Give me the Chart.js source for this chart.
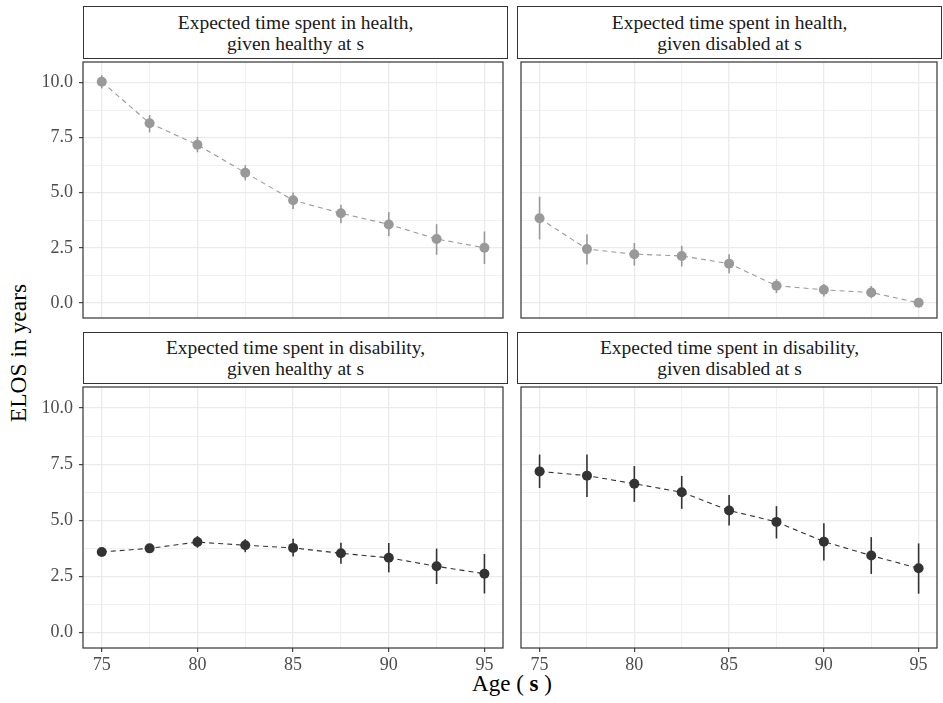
<!DOCTYPE html>
<html>
<head>
<meta charset="utf-8">
<script src="https://cdn.jsdelivr.net/npm/chart.js"></script>
<style>
  body { margin: 0; background: #fff; }
  #fig { position: relative; width: 943px; height: 703px; font-family: "Liberation Serif", serif; }
  #fig canvas { position: absolute; }
  .strip {
    position: absolute; box-sizing: border-box; border: 1px solid #333; background: #fff;
    color: #1a1a1a; font-size: 19.5px; line-height: 21px; text-align: center;
    display: flex; align-items: center; justify-content: center;
  }
  .ytitle {
    position: absolute; left: 18px; top: 353px; transform: translate(-50%, -50%) rotate(-90deg);
    font-size: 23.5px; white-space: nowrap; color: #000;
  }
  .xtitle {
    position: absolute; left: 512px; top: 684px; transform: translate(-50%, -50%);
    font-size: 23px; white-space: nowrap; color: #000;
  }
</style>
</head>
<body>
<div id="fig">
  <div class="ytitle">ELOS in years</div>
  <div class="xtitle">Age ( <b>s</b> )</div>
</div>
<script>
/* ── data ─────────────────────────────────────────────── */
const ages = [75, 77.5, 80, 82.5, 85, 87.5, 90, 92.5, 95];
const xTicks = [75, 77.5, 80, 82.5, 85, 87.5, 90, 92.5, 95];
const yTicks = [0, 1.25, 2.5, 3.75, 5, 6.25, 7.5, 8.75, 10];

const titles = [
  'Expected time spent in health,<br>given healthy at s',
  'Expected time spent in health,<br>given disabled at s',
  'Expected time spent in disability,<br>given healthy at s',
  'Expected time spent in disability,<br>given disabled at s'
];

// health, given healthy
const hhMean = [10.04, 8.16, 7.18, 5.91, 4.66, 4.07, 3.56, 2.90, 2.50];
const hhLow  = [9.74, 7.74, 6.84, 5.56, 4.26, 3.62, 3.03, 2.18, 1.76];
const hhHigh = [10.34, 8.53, 7.54, 6.25, 5.01, 4.46, 4.12, 3.57, 3.24];

// health, given disabled
const hdMean = [3.84, 2.44, 2.21, 2.13, 1.78, 0.78, 0.59, 0.47, 0.00];
const hdLow  = [2.88, 1.74, 1.69, 1.65, 1.34, 0.44, 0.29, 0.21, -0.05];
const hdHigh = [4.82, 3.12, 2.72, 2.59, 2.21, 1.07, 0.85, 0.76, 0.05];

// disability, given healthy
const dhMean = [3.59, 3.75, 4.03, 3.89, 3.77, 3.53, 3.33, 2.95, 2.62];
const dhLow  = [3.47, 3.60, 3.78, 3.58, 3.39, 3.06, 2.68, 2.16, 1.74];
const dhHigh = [3.72, 3.90, 4.30, 4.16, 4.18, 4.00, 3.99, 3.74, 3.50];

// disability, given disabled
const ddMean = [7.18, 6.99, 6.63, 6.25, 5.44, 4.93, 4.05, 3.43, 2.86];
const ddLow  = [6.44, 6.04, 5.82, 5.51, 4.77, 4.19, 3.21, 2.61, 1.73];
const ddHigh = [7.93, 7.93, 7.42, 6.98, 6.13, 5.63, 4.87, 4.25, 3.97];

/* ── panel plugins ────────────────────────────────────── */
const errPlugin = {
  id: 'errbars',
  beforeDatasetsDraw(ch) {
    const { ctx, scales: { x, y } } = ch;
    const o = ch.options.plugins.errbars;
    ctx.save();
    ctx.strokeStyle = o.color;
    ctx.lineWidth = 1.6;
    o.low.forEach((lo, i) => {
      const px = x.getPixelForValue(ages[i]);
      ctx.beginPath();
      ctx.moveTo(px, y.getPixelForValue(lo));
      ctx.lineTo(px, y.getPixelForValue(o.high[i]));
      ctx.stroke();
    });
    ctx.restore();
  }
};

const framePlugin = {
  id: 'frame',
  afterDraw(ch) {
    const { ctx, chartArea: a } = ch;
    ctx.save();
    ctx.strokeStyle = '#333';
    ctx.lineWidth = 1.2;
    ctx.strokeRect(a.left, a.top, a.right - a.left, a.bottom - a.top);
    ctx.restore();
  }
};

const isMajorX = v => Math.abs(v % 5) < 1e-6;
const isMajorY = v => Math.abs(v % 2.5) < 1e-6;

function noPad(s) {
  s.paddingTop = 0; s.paddingBottom = 0; s.paddingLeft = 0; s.paddingRight = 0;
}

function panel(idx, area, mean, low, high, color, showY, showX) {
  const fig = document.getElementById('fig');
  const yW = showY ? 50 : 0;
  const xH = showX ? 28 : 0;

  const strip = document.createElement('div');
  strip.className = 'strip';
  strip.innerHTML = titles[idx];
  strip.style.left = area.l + 'px';
  strip.style.top = area.st + 'px';
  strip.style.width = (area.r - area.l + 1) + 'px';
  strip.style.height = (area.t - area.st + 1) + 'px';
  fig.appendChild(strip);

  const cv = document.createElement('canvas');
  const left = area.l - (showY ? yW : 1);
  const top = area.t - 1;
  const w = (area.r - area.l) + (showY ? yW : 1) + 1;
  const h = (area.b - area.t) + 1 + (showX ? xH : 1);
  cv.width = w; cv.height = h;
  cv.style.left = left + 'px'; cv.style.top = top + 'px';
  cv.style.width = w + 'px'; cv.style.height = h + 'px';
  fig.appendChild(cv);

  new Chart(cv, {
    type: 'line',
    data: {
      datasets: [{
        data: ages.map((a, i) => ({ x: a, y: mean[i] })),
        borderColor: color,
        borderWidth: 1.1,
        borderDash: [5, 4],
        pointRadius: 5,
        pointBackgroundColor: color,
        pointBorderWidth: 0,
        tension: 0
      }]
    },
    options: {
      responsive: false,
      animation: false,
      devicePixelRatio: 1,
      layout: { padding: { left: showY ? 0 : 1, top: 1, right: 1, bottom: showX ? 0 : 1 } },
      plugins: {
        legend: { display: false },
        tooltip: { enabled: false },
        errbars: { low, high, color }
      },
      scales: {
        x: {
          type: 'linear', min: 74.02, max: 95.97,
          afterBuildTicks: s => { s.ticks = xTicks.map(v => ({ value: v })); },
          afterFit: s => { s.height = xH; noPad(s); },
          border: { display: false },
          grid: {
            color: '#ebebeb',
            lineWidth: c => isMajorX(c.tick.value) ? 1.3 : 0.7,
            drawTicks: showX,
            tickLength: 4,
            tickWidth: 1.1,
            tickColor: c => isMajorX(c.tick.value) ? '#333' : 'rgba(0,0,0,0)'
          },
          ticks: {
            display: showX,
            autoSkip: false,
            maxRotation: 0,
            padding: 2,
            color: '#4d4d4d',
            font: { family: 'Liberation Serif', size: 18 },
            callback: v => isMajorX(v) ? String(v) : ''
          }
        },
        y: {
          min: -0.69, max: 10.94,
          afterBuildTicks: s => { s.ticks = yTicks.map(v => ({ value: v })); },
          afterFit: s => { s.width = yW; noPad(s); },
          border: { display: false },
          grid: {
            color: '#ebebeb',
            lineWidth: c => isMajorY(c.tick.value) ? 1.3 : 0.7,
            drawTicks: showY,
            tickLength: 4,
            tickWidth: 1.1,
            tickColor: c => isMajorY(c.tick.value) ? '#333' : 'rgba(0,0,0,0)'
          },
          ticks: {
            display: showY,
            autoSkip: false,
            padding: 6,
            color: '#4d4d4d',
            font: { family: 'Liberation Serif', size: 18 },
            callback: v => isMajorY(v) ? v.toFixed(1) : ''
          }
        }
      }
    },
    plugins: [errPlugin, framePlugin]
  });
}

const GREY = '#999999';
const DARK = '#333333';

panel(0, { l: 83, r: 507, st: 6, t: 58, b: 322 }, hhMean, hhLow, hhHigh, GREY, true, false);
panel(1, { l: 517, r: 941, st: 6, t: 58, b: 322 }, hdMean, hdLow, hdHigh, GREY, false, false);
panel(2, { l: 83, r: 507, st: 332, t: 383, b: 648 }, dhMean, dhLow, dhHigh, DARK, true, true);
panel(3, { l: 517, r: 941, st: 332, t: 383, b: 648 }, ddMean, ddLow, ddHigh, DARK, false, true);
</script>
</body>
</html>
